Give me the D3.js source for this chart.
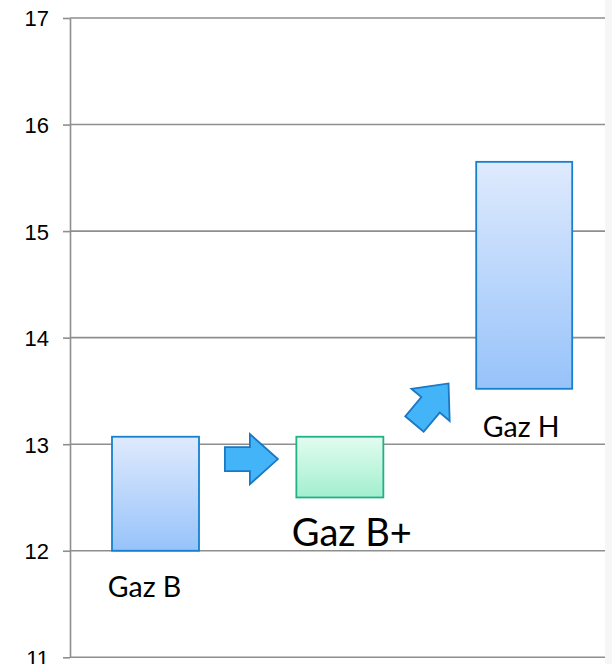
<!DOCTYPE html>
<html>
<head>
<meta charset="utf-8">
<script src="https://cdn.jsdelivr.net/npm/d3@7"></script>
<style>
	body { margin: 0; background: #fff; }
	svg { display: block; }
	.tick text { font-family: "Liberation Sans", Arial, sans-serif; fill: #000; }
	.lbl { font-family: Lato, "Open Sans", sans-serif; fill: #000; }
</style>
</head>
<body>
<svg id="chart" width="612" height="664"></svg>
<script>
// data
var categories = ["Gaz B", "Gaz B+", "Gaz H"];
var lows = [12.0, 12.5, 13.52];
var highs = [13.07, 13.07, 15.65];
var yTicks = [11, 12, 13, 14, 15, 16, 17];
var arrowLevels = [12.86, 13.38];

// styling per bar
var barWidths = [87, 87, 96];
var labelSizes = [28.5, 38, 28.5];
var labelShift = [-11, 12, -3];
var labelDrop = [46, 49, 48];
var fills = ["blueGrad", "greenGrad", "blueGrad"];
var strokes = ["#1680cf", "#22b087", "#1680cf"];

var svg = d3.select('#chart');

var plotLeft = 70, plotRight = 605, plotTop = 18, plotBottom = 657.3;

var y = d3.scaleLinear().domain([11, 17]).range([plotBottom, plotTop]);
var x = d3.scalePoint().domain(categories).range([155.5, 524.2]);

var defs = svg.append('defs');
function gradient(id, c0, c1) {
	var g = defs.append('linearGradient').attr('id', id)
		.attr('x1', 0).attr('y1', 0).attr('x2', 0).attr('y2', 1);
	g.append('stop').attr('offset', '0%').attr('stop-color', c0);
	g.append('stop').attr('offset', '100%').attr('stop-color', c1);
}
gradient('blueGrad', "#dfeafd", "#97c3fa");
gradient('greenGrad', "#e2fcf0", "#a2efcf");

// faint strip at the right edge
svg.append('rect')
	.attr('x', plotRight).attr('y', 0)
	.attr('width', 612 - plotRight).attr('height', 664)
	.attr('fill', "#f6f6f6");

//Gridlines
svg.append('g')
	.selectAll('line')
	.data(yTicks)
	.join('line')
	.attr('x1', plotLeft).attr('x2', plotRight)
	.attr('y1', function(d) { return y(d); })
	.attr('y2', function(d) { return y(d); })
	.attr('stroke', "#8e8e8e")
	.attr('stroke-width', 1.6);

//Axis
var axis = svg.append('g')
	.attr('transform', "translate(" + plotLeft + ",0)")
	.call(d3.axisLeft(y).tickValues(yTicks).tickSize(7).tickSizeOuter(0).tickPadding(14).tickFormat(d3.format('d')));
axis.select('.domain').attr('stroke', "#8e8e8e").attr('stroke-width', 1.6);
axis.selectAll('.tick line').attr('stroke', "#8e8e8e").attr('stroke-width', 1.6);
axis.selectAll('.tick text').attr('font-size', 22).attr('dy', "0.36em");

//Bars
svg.append('g')
	.selectAll('rect')
	.data(categories)
	.join('rect')
	.attr('x', function(d, i) { return x(d) - barWidths[i] / 2; })
	.attr('width', function(d, i) { return barWidths[i]; })
	.attr('y', function(d, i) { return y(highs[i]); })
	.attr('height', function(d, i) { return y(lows[i]) - y(highs[i]); })
	.attr('fill', function(d, i) { return "url(#" + fills[i] + ")"; })
	.attr('stroke', function(d, i) { return strokes[i]; })
	.attr('stroke-width', 1.8);

//Labels under the bars
svg.append('g')
	.selectAll('text')
	.data(categories)
	.join('text')
	.attr('class', "lbl")
	.attr('x', function(d, i) { return x(d) + labelShift[i]; })
	.attr('y', function(d, i) { return y(lows[i]) + labelDrop[i]; })
	.attr('text-anchor', "middle")
	.attr('font-size', function(d, i) { return labelSizes[i]; })
	.text(function(d) { return d; });

//Arrows between the bars
var arrowPoints = [[-26.5, -12], [-1.5, -12], [-1.5, -25], [26.5, 0], [-1.5, 25], [-1.5, 12], [-26.5, 12]];
var arrowAngles = [0, -50];
var arrowX = [251.4, 431.5];

svg.append('g')
	.selectAll('polygon')
	.data(arrowLevels)
	.join('polygon')
	.attr('points', arrowPoints.map(function(p) { return p.join(','); }).join(' '))
	.attr('transform', function(d, i) {
		return "translate(" + arrowX[i] + "," + y(d) + ") rotate(" + arrowAngles[i] + ")";
	})
	.attr('fill', "#44b4f8")
	.attr('stroke', "#1a78c4")
	.attr('stroke-width', 1.8)
	.attr('stroke-linejoin', "miter");
</script>
</body>
</html>
